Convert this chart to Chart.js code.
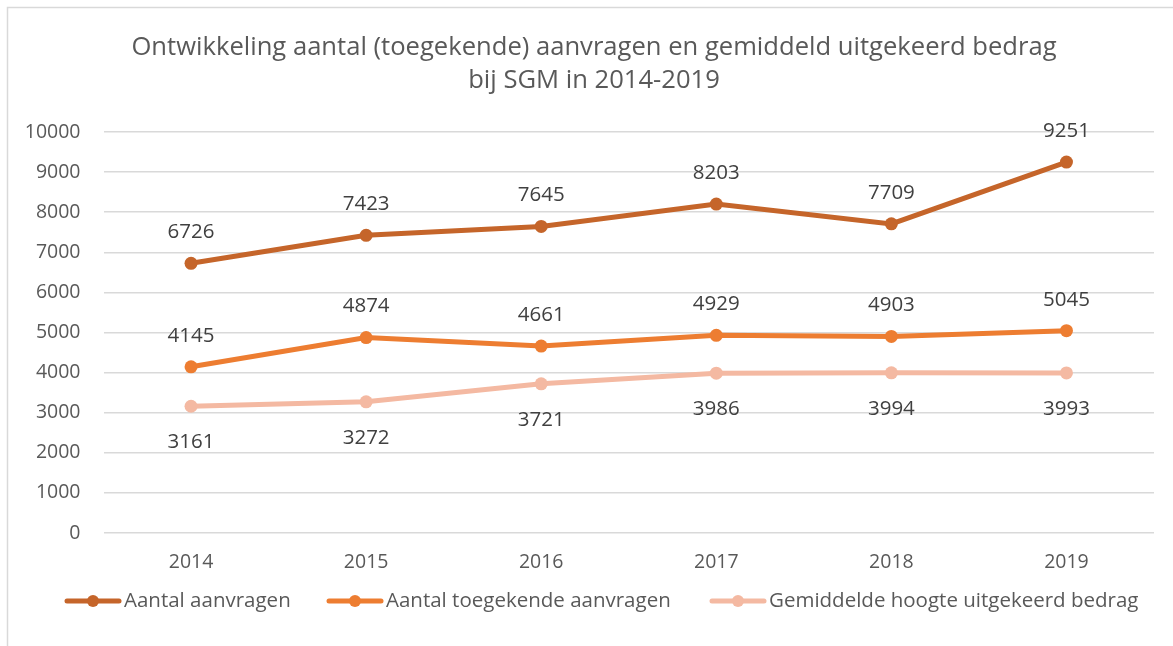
<!DOCTYPE html>
<html>
<head>
<meta charset="utf-8">
<script src="https://cdn.jsdelivr.net/npm/chart.js@4/dist/chart.umd.min.js"></script>
<style>
html,body{margin:0;padding:0;background:#fff;}
#wrap{position:relative;width:1173px;height:646px;}
</style>
</head>
<body>
<div id="wrap"><canvas id="c" width="1173" height="646"></canvas></div>
<script>
const titleLines = ["Ontwikkeling aantal (toegekende) aanvragen en gemiddeld uitgekeerd bedrag", "bij SGM in 2014-2019"];
const years = ["2014", "2015", "2016", "2017", "2018", "2019"];
const aantalAanvragen = [6726, 7423, 7645, 8203, 7709, 9251];
const toegekendeAanvragen = [4145, 4874, 4661, 4929, 4903, 5045];
const gemiddeldeHoogte = [3161, 3272, 3721, 3986, 3994, 3993];
const seriesNames = ["Aantal aanvragen", "Aantal toegekende aanvragen", "Gemiddelde hoogte uitgekeerd bedrag"];
const seriesColors = ["#C5652A", "#ED7D31", "#F4B9A2"];
const labelSide = ["above", "above", "below"];
const yMin = 0, yMax = 10000, yStep = 1000;

const FONT = "'Open Sans', 'Noto Sans', sans-serif";

const decorPlugin = {
  id: 'decor',
  beforeDraw(chart) {
    const ctx = chart.ctx;
    ctx.save();
    ctx.fillStyle = '#fff';
    ctx.fillRect(0, 0, chart.width, chart.height);
    ctx.strokeStyle = '#D9D9D9';
    ctx.lineWidth = 1.5;
    ctx.beginPath();
    ctx.moveTo(7.5, chart.height + 5);
    ctx.lineTo(7.5, 7.5);
    ctx.lineTo(chart.width + 5, 7.5);
    ctx.stroke();
    ctx.fillStyle = '#595959';
    ctx.font = "25.6px " + FONT;
    ctx.textAlign = 'center';
    ctx.textBaseline = 'middle';
    ctx.fillText(titleLines[0], 594, 48);
    ctx.fillText(titleLines[1], 594, 81);
    ctx.restore();
  },
  afterDatasetsDraw(chart) {
    const ctx = chart.ctx;
    ctx.save();
    ctx.font = "20.5px " + FONT;
    ctx.fillStyle = '#404040';
    ctx.textAlign = 'center';
    ctx.textBaseline = 'middle';
    chart.data.datasets.forEach((ds, i) => {
      const meta = chart.getDatasetMeta(i);
      meta.data.forEach((pt, j) => {
        const dy = labelSide[i] === 'above' ? -31 : 36;
        ctx.fillText(String(ds.data[j]), pt.x, pt.y + dy);
      });
    });
    // legend
    ctx.font = "20.5px " + FONT;
    ctx.textAlign = 'left';
    const legendX = [65, 327, 710];
    const lineLen = 56;
    const ly = 601;
    chart.data.datasets.forEach((ds, i) => {
      const x0 = legendX[i];
      ctx.strokeStyle = seriesColors[i];
      ctx.lineWidth = 5;
      ctx.lineCap = 'round';
      ctx.beginPath();
      ctx.moveTo(x0 + 2, ly);
      ctx.lineTo(x0 + lineLen - 2, ly);
      ctx.stroke();
      ctx.fillStyle = seriesColors[i];
      ctx.beginPath();
      ctx.arc(x0 + lineLen / 2, ly, 6, 0, Math.PI * 2);
      ctx.fill();
      ctx.fillStyle = '#595959';
      ctx.fillText(seriesNames[i], x0 + lineLen + 3, ly);
    });
    ctx.restore();
  }
};

const datasets = [aantalAanvragen, toegekendeAanvragen, gemiddeldeHoogte].map((d, i) => ({
  label: seriesNames[i],
  data: d,
  borderColor: seriesColors[i],
  backgroundColor: seriesColors[i],
  borderWidth: 5,
  pointRadius: 6.5,
  pointBorderWidth: 0,
  pointHoverRadius: 6.5,
  tension: 0,
  fill: false
}));

new Chart(document.getElementById('c'), {
  type: 'line',
  data: { labels: years, datasets: datasets },
  options: {
    responsive: false,
    animation: false,
    events: [],
    layout: { padding: { top: 132, right: 19, bottom: 0, left: 0 } },
    plugins: { legend: { display: false }, title: { display: false }, tooltip: { enabled: false } },
    scales: {
      x: {
        offset: true,
        grid: { display: false, drawTicks: false },
        border: { display: false },
        ticks: { color: '#595959', font: { family: FONT, size: 19.5 }, padding: 18 },
        afterFit(scale) { scale.height = 113; }
      },
      y: {
        min: yMin, max: yMax,
        grid: { color: '#D9D9D9', lineWidth: 1.5, drawTicks: false },
        border: { display: false },
        ticks: { stepSize: yStep, color: '#595959', font: { family: FONT, size: 19.5 }, padding: 23,
                 callback: (v) => String(v) },
        afterFit(scale) { scale.width = 103.5; }
      }
    }
  },
  plugins: [decorPlugin]
});
</script>
</body>
</html>
